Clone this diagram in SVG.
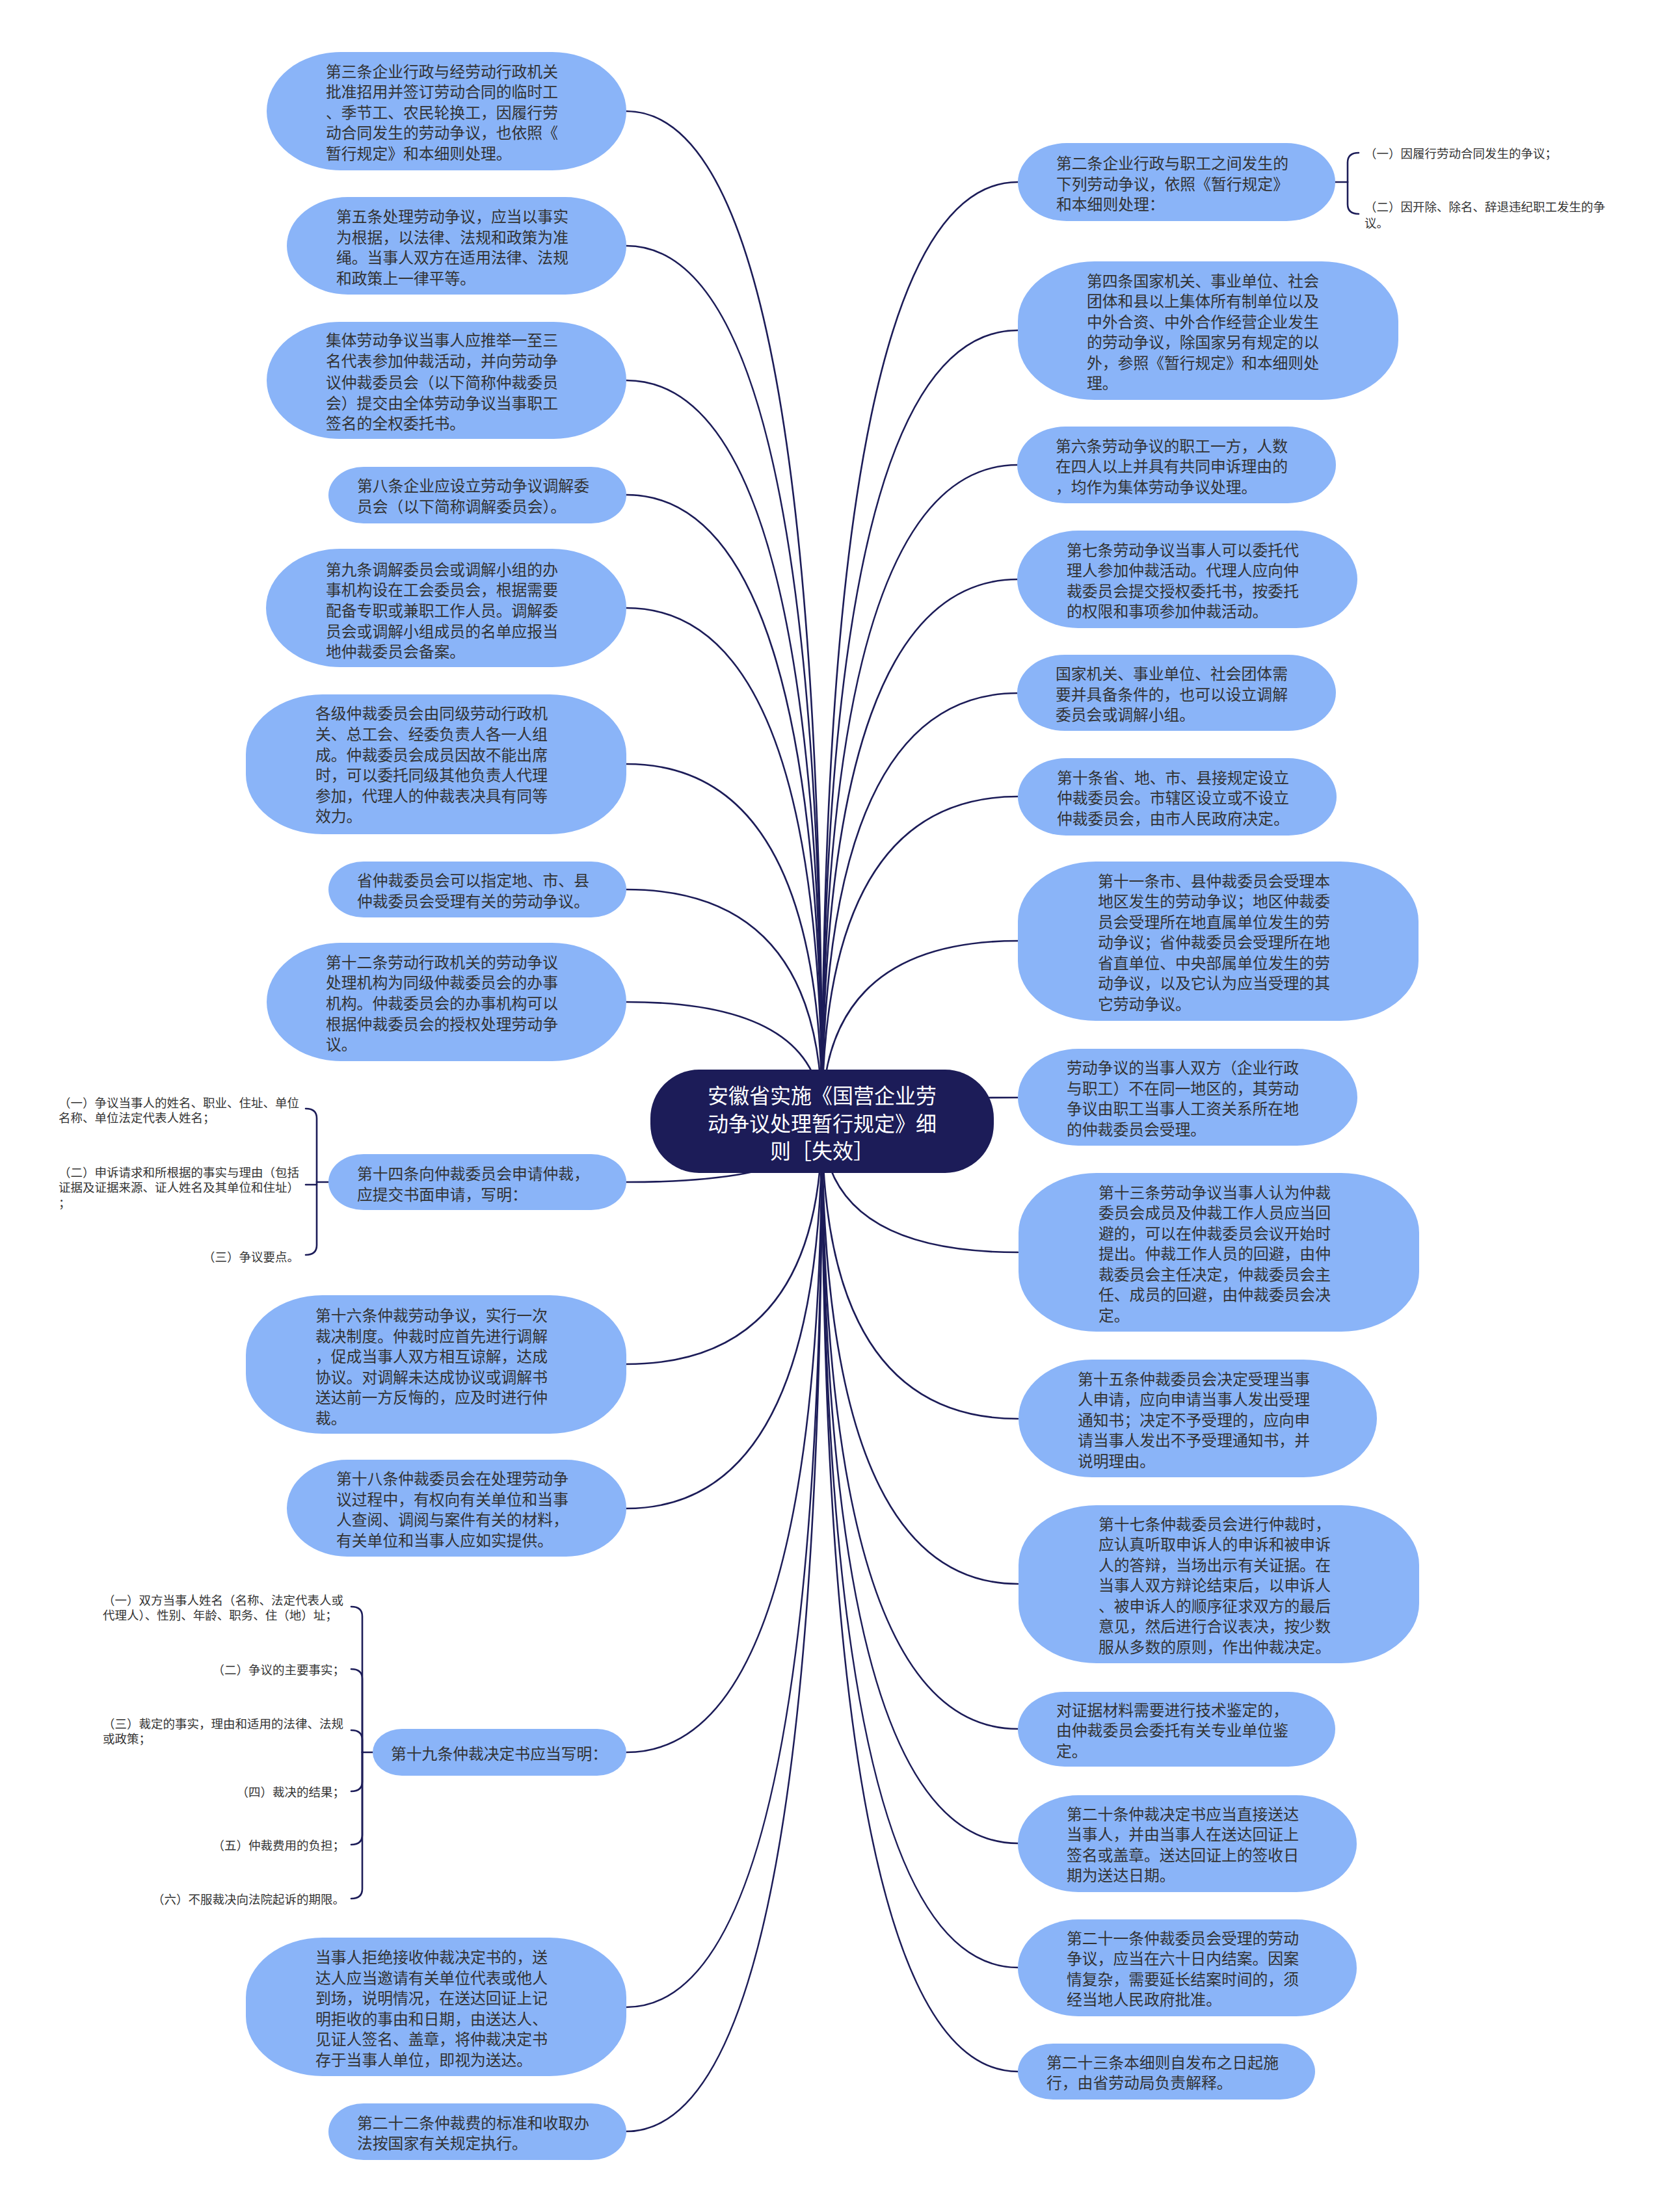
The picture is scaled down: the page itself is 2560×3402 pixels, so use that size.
<svg xmlns="http://www.w3.org/2000/svg" width="2560" height="3402" viewBox="0 0 2560 3402">
<style>
.bg{fill:#ffffff}
.node rect{fill:#8ab4f8}
.t{font-family:"Noto Sans CJK SC","Noto Sans",sans-serif;font-size:23.8px;fill:#333333;dominant-baseline:central}
.s{font-family:"Noto Sans CJK SC","Noto Sans",sans-serif;font-size:18.5px;fill:#333333;dominant-baseline:central}
.e{text-anchor:end}
.ct{font-family:"Noto Sans CJK SC","Noto Sans",sans-serif;font-size:32px;fill:#ffffff;dominant-baseline:central;text-anchor:middle}
.edge{fill:none;stroke:#1c1c58;stroke-width:2.6;stroke-linecap:round}
</style>
<rect class="bg" x="0" y="0" width="2560" height="3402"/>
<g id="connectors">
<path class="edge" d="M1264,1722 Q1264,171 963,171"/>
<path class="edge" d="M1264,1722 Q1264,378 963,378"/>
<path class="edge" d="M1264,1722 Q1264,585 963,585"/>
<path class="edge" d="M1264,1722 Q1264,761 963,761"/>
<path class="edge" d="M1264,1722 Q1264,935 963,935"/>
<path class="edge" d="M1264,1722 Q1264,1175 963,1175"/>
<path class="edge" d="M1264,1722 Q1264,1368 963,1368"/>
<path class="edge" d="M1264,1722 Q1264,1541 963,1541"/>
<path class="edge" d="M1264,1722 Q1264,1818 963,1818"/>
<path class="edge" d="M1264,1722 Q1264,2098 963,2098"/>
<path class="edge" d="M1264,1722 Q1264,2320 963,2320"/>
<path class="edge" d="M1264,1722 Q1264,2695 963,2695"/>
<path class="edge" d="M1264,1722 Q1264,3087 963,3087"/>
<path class="edge" d="M1264,1722 Q1264,3278 963,3278"/>
<path class="edge" d="M1264,1722 Q1264,280 1565,280"/>
<path class="edge" d="M1264,1722 Q1264,508 1565,508"/>
<path class="edge" d="M1264,1722 Q1264,715 1565,715"/>
<path class="edge" d="M1264,1722 Q1264,891 1565,891"/>
<path class="edge" d="M1264,1722 Q1264,1066 1565,1066"/>
<path class="edge" d="M1264,1722 Q1264,1225 1565,1225"/>
<path class="edge" d="M1264,1722 Q1264,1447 1565,1447"/>
<path class="edge" d="M1264,1722 Q1264,1688 1565,1688"/>
<path class="edge" d="M1264,1722 Q1264,1926 1565,1926"/>
<path class="edge" d="M1264,1722 Q1264,2182 1565,2182"/>
<path class="edge" d="M1264,1722 Q1264,2436 1565,2436"/>
<path class="edge" d="M1264,1722 Q1264,2659 1565,2659"/>
<path class="edge" d="M1264,1722 Q1264,2835 1565,2835"/>
<path class="edge" d="M1264,1722 Q1264,3026 1565,3026"/>
<path class="edge" d="M1264,1722 Q1264,3186 1565,3186"/>
<!-- brace of 第二条 -->
<path class="edge" d="M2053,280 L2072,280"/>
<path class="edge" d="M2072,280 L2072,250 Q2072,235 2089,235"/>
<path class="edge" d="M2072,280 L2072,314 Q2072,329 2089,329"/>
<!-- brace of 第十四条 -->
<path class="edge" d="M505,1818 L487,1818"/>
<path class="edge" d="M487,1818 L487,1720 Q487,1705 470,1705"/>
<path class="edge" d="M487,1822 L470,1822"/>
<path class="edge" d="M487,1818 L487,1915 Q487,1930 470,1930"/>
<!-- brace of 第十九条 -->
<path class="edge" d="M573,2695 L557,2695"/>
<path class="edge" d="M557,2695 L557,2486 Q557,2471 540,2471"/>
<path class="edge" d="M557,2695 L557,2582 Q557,2567 540,2567"/>
<path class="edge" d="M557,2695 L557,2676 Q557,2661 540,2661"/>
<path class="edge" d="M557,2695 L557,2740 Q557,2755 540,2755"/>
<path class="edge" d="M557,2695 L557,2822 Q557,2837 540,2837"/>
<path class="edge" d="M557,2695 L557,2905 Q557,2920 540,2920"/>
</g>

<g id="n-root">
<rect x="1000" y="1645" width="528" height="159" rx="75" ry="75" fill="#1c1c58"/>
<text class="ct"><tspan x="1264" y="1683">安徽省实施《国营企业劳</tspan><tspan x="1264" y="1726">动争议处理暂行规定》细</tspan><tspan x="1264" y="1768">则［失效］</tspan></text>
</g>

<g id="n-l1" class="node"><rect x="410" y="80" width="553" height="182" rx="114" ry="91"/>
<text class="t"><tspan x="501" y="108">第三条企业行政与经劳动行政机关</tspan><tspan x="501" y="139">批准招用并签订劳动合同的临时工</tspan><tspan x="501" y="171">、季节工、农民轮换工，因履行劳</tspan><tspan x="501" y="202">动合同发生的劳动争议，也依照《</tspan><tspan x="501" y="234">暂行规定》和本细则处理。</tspan></text></g>

<g id="n-l2" class="node"><rect x="441" y="303" width="522" height="150" rx="94" ry="75"/>
<text class="t"><tspan x="517" y="331">第五条处理劳动争议，应当以事实</tspan><tspan x="517" y="363">为根据，以法律、法规和政策为准</tspan><tspan x="517" y="394">绳。当事人双方在适用法律、法规</tspan><tspan x="517" y="426">和政策上一律平等。</tspan></text></g>

<g id="n-l3" class="node"><rect x="410" y="495" width="553" height="180" rx="112" ry="90"/>
<text class="t"><tspan x="501" y="521">集体劳动争议当事人应推举一至三</tspan><tspan x="501" y="553">名代表参加仲裁活动，并向劳动争</tspan><tspan x="501" y="586">议仲裁委员会（以下简称仲裁委员</tspan><tspan x="501" y="618">会）提交由全体劳动争议当事职工</tspan><tspan x="501" y="649">签名的全权委托书。</tspan></text></g>

<g id="n-l4" class="node"><rect x="505" y="718" width="458" height="87" rx="54" ry="43.5"/>
<text class="t"><tspan x="549" y="745">第八条企业应设立劳动争议调解委</tspan><tspan x="549" y="777">员会（以下简称调解委员会）。</tspan></text></g>

<g id="n-l5" class="node"><rect x="409" y="844" width="554" height="182" rx="114" ry="91"/>
<text class="t"><tspan x="501" y="874">第九条调解委员会或调解小组的办</tspan><tspan x="501" y="905">事机构设在工会委员会，根据需要</tspan><tspan x="501" y="937">配备专职或兼职工作人员。调解委</tspan><tspan x="501" y="969">员会或调解小组成员的名单应报当</tspan><tspan x="501" y="1000">地仲裁委员会备案。</tspan></text></g>

<g id="n-l6" class="node"><rect x="378" y="1068" width="585" height="215" rx="118" ry="92"/>
<text class="t"><tspan x="485" y="1095">各级仲裁委员会由同级劳动行政机</tspan><tspan x="485" y="1127">关、总工会、经委负责人各一人组</tspan><tspan x="485" y="1159">成。仲裁委员会成员因故不能出席</tspan><tspan x="485" y="1190">时，可以委托同级其他负责人代理</tspan><tspan x="485" y="1222">参加，代理人的仲裁表决具有同等</tspan><tspan x="485" y="1253">效力。</tspan></text></g>

<g id="n-l7" class="node"><rect x="505" y="1325" width="458" height="86" rx="54" ry="43"/>
<text class="t"><tspan x="549" y="1352">省仲裁委员会可以指定地、市、县</tspan><tspan x="549" y="1384">仲裁委员会受理有关的劳动争议。</tspan></text></g>

<g id="n-l8" class="node"><rect x="410" y="1450" width="553" height="182" rx="114" ry="91"/>
<text class="t"><tspan x="501" y="1478">第十二条劳动行政机关的劳动争议</tspan><tspan x="501" y="1509">处理机构为同级仲裁委员会的办事</tspan><tspan x="501" y="1541">机构。仲裁委员会的办事机构可以</tspan><tspan x="501" y="1573">根据仲裁委员会的授权处理劳动争</tspan><tspan x="501" y="1604">议。</tspan></text></g>

<g id="n-l9" class="node"><rect x="505" y="1775" width="458" height="86" rx="54" ry="43"/>
<text class="t"><tspan x="549" y="1803">第十四条向仲裁委员会申请仲裁，</tspan><tspan x="549" y="1835">应提交书面申请，写明：</tspan></text></g>
<g id="n-l9-c1"><text class="s"><tspan x="90" y="1695">（一）争议当事人的姓名、职业、住址、单位</tspan><tspan x="90" y="1718">名称、单位法定代表人姓名；</tspan></text></g>
<g id="n-l9-c2"><text class="s"><tspan x="90" y="1802">（二）申诉请求和所根据的事实与理由（包括</tspan><tspan x="90" y="1825">证据及证据来源、证人姓名及其单位和住址）</tspan><tspan x="90" y="1849">；</tspan></text></g>
<g id="n-l9-c3"><text class="s e" x="460" y="1932">（三）争议要点。</text></g>

<g id="n-l10" class="node"><rect x="378" y="1992" width="585" height="213" rx="118" ry="92"/>
<text class="t"><tspan x="485" y="2021">第十六条仲裁劳动争议，实行一次</tspan><tspan x="485" y="2053">裁决制度。仲裁时应首先进行调解</tspan><tspan x="485" y="2084">，促成当事人双方相互谅解，达成</tspan><tspan x="485" y="2116">协议。对调解未达成协议或调解书</tspan><tspan x="485" y="2147">送达前一方反悔的，应及时进行仲</tspan><tspan x="485" y="2179">裁。</tspan></text></g>

<g id="n-l11" class="node"><rect x="441" y="2245" width="522" height="149" rx="93" ry="74.5"/>
<text class="t"><tspan x="517" y="2272">第十八条仲裁委员会在处理劳动争</tspan><tspan x="517" y="2304">议过程中，有权向有关单位和当事</tspan><tspan x="517" y="2335">人查阅、调阅与案件有关的材料，</tspan><tspan x="517" y="2367">有关单位和当事人应如实提供。</tspan></text></g>

<g id="n-l12" class="node"><rect x="573" y="2659" width="390" height="72" rx="45" ry="36"/>
<text class="t"><tspan x="601" y="2695">第十九条仲裁决定书应当写明：</tspan></text></g>
<g id="n-l12-c1"><text class="s"><tspan x="158" y="2460">（一）双方当事人姓名（名称、法定代表人或</tspan><tspan x="158" y="2483">代理人）、性别、年龄、职务、住（地）址；</tspan></text></g>
<g id="n-l12-c2"><text class="s e" x="530" y="2567">（二）争议的主要事实；</text></g>
<g id="n-l12-c3"><text class="s"><tspan x="158" y="2650">（三）裁定的事实，理由和适用的法律、法规</tspan><tspan x="158" y="2673">或政策；</tspan></text></g>
<g id="n-l12-c4"><text class="s e" x="530" y="2755">（四）裁决的结果；</text></g>
<g id="n-l12-c5"><text class="s e" x="530" y="2837">（五）仲裁费用的负担；</text></g>
<g id="n-l12-c6"><text class="s e" x="530" y="2920">（六）不服裁决向法院起诉的期限。</text></g>

<g id="n-l13" class="node"><rect x="378" y="2980" width="585" height="213" rx="118" ry="92"/>
<text class="t"><tspan x="485" y="3008">当事人拒绝接收仲裁决定书的，送</tspan><tspan x="485" y="3040">达人应当邀请有关单位代表或他人</tspan><tspan x="485" y="3071">到场，说明情况，在送达回证上记</tspan><tspan x="485" y="3103">明拒收的事由和日期，由送达人、</tspan><tspan x="485" y="3134">见证人签名、盖章，将仲裁决定书</tspan><tspan x="485" y="3166">存于当事人单位，即视为送达。</tspan></text></g>

<g id="n-l14" class="node"><rect x="505" y="3235" width="458" height="87" rx="54" ry="43.5"/>
<text class="t"><tspan x="549" y="3263">第二十二条仲裁费的标准和收取办</tspan><tspan x="549" y="3294">法按国家有关规定执行。</tspan></text></g>

<g id="n-r1" class="node"><rect x="1565" y="220" width="488" height="120" rx="75" ry="60"/>
<text class="t"><tspan x="1624" y="249">第二条企业行政与职工之间发生的</tspan><tspan x="1624" y="281">下列劳动争议，依照《暂行规定》</tspan><tspan x="1624" y="312">和本细则处理：</tspan></text></g>
<g id="n-r1-c1"><text class="s"><tspan x="2098" y="235">（一）因履行劳动合同发生的争议；</tspan></text></g>
<g id="n-r1-c2"><text class="s"><tspan x="2098" y="317">（二）因开除、除名、辞退违纪职工发生的争</tspan><tspan x="2098" y="342">议。</tspan></text></g>

<g id="n-r2" class="node"><rect x="1565" y="402" width="585" height="213" rx="118" ry="92"/>
<text class="t"><tspan x="1671" y="430">第四条国家机关、事业单位、社会</tspan><tspan x="1671" y="461">团体和县以上集体所有制单位以及</tspan><tspan x="1671" y="493">中外合资、中外合作经营企业发生</tspan><tspan x="1671" y="524">的劳动争议，除国家另有规定的以</tspan><tspan x="1671" y="556">外，参照《暂行规定》和本细则处</tspan><tspan x="1671" y="587">理。</tspan></text></g>

<g id="n-r3" class="node"><rect x="1564" y="656" width="490" height="118" rx="74" ry="59"/>
<text class="t"><tspan x="1623" y="684">第六条劳动争议的职工一方，人数</tspan><tspan x="1623" y="715">在四人以上并具有共同申诉理由的</tspan><tspan x="1623" y="747">，均作为集体劳动争议处理。</tspan></text></g>

<g id="n-r4" class="node"><rect x="1564" y="816" width="523" height="150" rx="94" ry="75"/>
<text class="t"><tspan x="1640" y="844">第七条劳动争议当事人可以委托代</tspan><tspan x="1640" y="875">理人参加仲裁活动。代理人应向仲</tspan><tspan x="1640" y="907">裁委员会提交授权委托书，按委托</tspan><tspan x="1640" y="938">的权限和事项参加仲裁活动。</tspan></text></g>

<g id="n-r5" class="node"><rect x="1564" y="1007" width="490" height="117" rx="73" ry="58.5"/>
<text class="t"><tspan x="1623" y="1034">国家机关、事业单位、社会团体需</tspan><tspan x="1623" y="1066">要并具备条件的，也可以设立调解</tspan><tspan x="1623" y="1097">委员会或调解小组。</tspan></text></g>

<g id="n-r6" class="node"><rect x="1565" y="1166" width="490" height="119" rx="74" ry="59.5"/>
<text class="t"><tspan x="1625" y="1194">第十条省、地、市、县接规定设立</tspan><tspan x="1625" y="1225">仲裁委员会。市辖区设立或不设立</tspan><tspan x="1625" y="1257">仲裁委员会，由市人民政府决定。</tspan></text></g>

<g id="n-r7" class="node"><rect x="1565" y="1325" width="616" height="245" rx="120" ry="92"/>
<text class="t"><tspan x="1688" y="1353">第十一条市、县仲裁委员会受理本</tspan><tspan x="1688" y="1384">地区发生的劳动争议；地区仲裁委</tspan><tspan x="1688" y="1416">员会受理所在地直属单位发生的劳</tspan><tspan x="1688" y="1447">动争议；省仲裁委员会受理所在地</tspan><tspan x="1688" y="1479">省直单位、中央部属单位发生的劳</tspan><tspan x="1688" y="1510">动争议，以及它认为应当受理的其</tspan><tspan x="1688" y="1542">它劳动争议。</tspan></text></g>

<g id="n-r8" class="node"><rect x="1565" y="1613" width="522" height="149" rx="93" ry="74.5"/>
<text class="t"><tspan x="1640" y="1640">劳动争议的当事人双方（企业行政</tspan><tspan x="1640" y="1672">与职工）不在同一地区的，其劳动</tspan><tspan x="1640" y="1703">争议由职工当事人工资关系所在地</tspan><tspan x="1640" y="1735">的仲裁委员会受理。</tspan></text></g>

<g id="n-r9" class="node"><rect x="1566" y="1804" width="616" height="244" rx="120" ry="92"/>
<text class="t"><tspan x="1689" y="1832">第十三条劳动争议当事人认为仲裁</tspan><tspan x="1689" y="1863">委员会成员及仲裁工作人员应当回</tspan><tspan x="1689" y="1895">避的，可以在仲裁委员会议开始时</tspan><tspan x="1689" y="1926">提出。仲裁工作人员的回避，由仲</tspan><tspan x="1689" y="1958">裁委员会主任决定，仲裁委员会主</tspan><tspan x="1689" y="1989">任、成员的回避，由仲裁委员会决</tspan><tspan x="1689" y="2021">定。</tspan></text></g>

<g id="n-r10" class="node"><rect x="1566" y="2091" width="551" height="181" rx="113" ry="90.5"/>
<text class="t"><tspan x="1657" y="2119">第十五条仲裁委员会决定受理当事</tspan><tspan x="1657" y="2150">人申请，应向申请当事人发出受理</tspan><tspan x="1657" y="2182">通知书；决定不予受理的，应向申</tspan><tspan x="1657" y="2213">请当事人发出不予受理通知书，并</tspan><tspan x="1657" y="2245">说明理由。</tspan></text></g>

<g id="n-r11" class="node"><rect x="1566" y="2315" width="616" height="243" rx="120" ry="92"/>
<text class="t"><tspan x="1689" y="2342">第十七条仲裁委员会进行仲裁时，</tspan><tspan x="1689" y="2373">应认真听取申诉人的申诉和被申诉</tspan><tspan x="1689" y="2405">人的答辩，当场出示有关证据。在</tspan><tspan x="1689" y="2436">当事人双方辩论结束后，以申诉人</tspan><tspan x="1689" y="2468">、被申诉人的顺序征求双方的最后</tspan><tspan x="1689" y="2499">意见，然后进行合议表决，按少数</tspan><tspan x="1689" y="2531">服从多数的原则，作出仲裁决定。</tspan></text></g>

<g id="n-r12" class="node"><rect x="1565" y="2602" width="488" height="115" rx="72" ry="57.5"/>
<text class="t"><tspan x="1624" y="2628">对证据材料需要进行技术鉴定的，</tspan><tspan x="1624" y="2659">由仲裁委员会委托有关专业单位鉴</tspan><tspan x="1624" y="2691">定。</tspan></text></g>

<g id="n-r13" class="node"><rect x="1565" y="2761" width="521" height="149" rx="93" ry="74.5"/>
<text class="t"><tspan x="1640" y="2788">第二十条仲裁决定书应当直接送达</tspan><tspan x="1640" y="2819">当事人，并由当事人在送达回证上</tspan><tspan x="1640" y="2851">签名或盖章。送达回证上的签收日</tspan><tspan x="1640" y="2882">期为送达日期。</tspan></text></g>

<g id="n-r14" class="node"><rect x="1565" y="2952" width="521" height="149" rx="93" ry="74.5"/>
<text class="t"><tspan x="1640" y="2979">第二十一条仲裁委员会受理的劳动</tspan><tspan x="1640" y="3010">争议，应当在六十日内结案。因案</tspan><tspan x="1640" y="3042">情复杂，需要延长结案时间的，须</tspan><tspan x="1640" y="3073">经当地人民政府批准。</tspan></text></g>

<g id="n-r15" class="node"><rect x="1565" y="3143" width="457" height="86" rx="54" ry="43"/>
<text class="t"><tspan x="1609" y="3170">第二十三条本细则自发布之日起施</tspan><tspan x="1609" y="3201">行，由省劳动局负责解释。</tspan></text></g>
</svg>
